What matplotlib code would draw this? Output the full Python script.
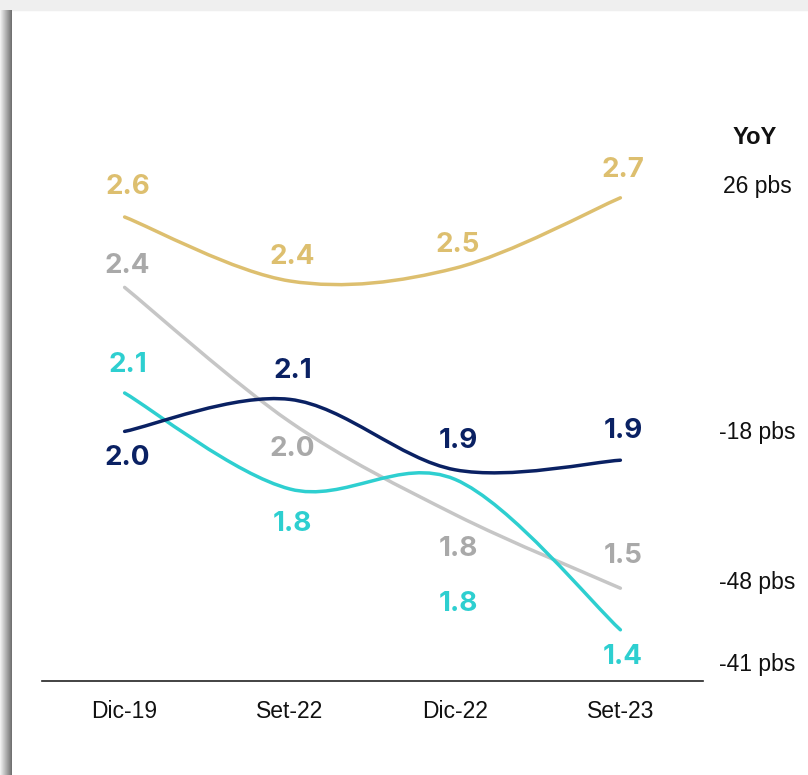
import numpy as np
import matplotlib.pyplot as plt
from matplotlib.path import Path
from matplotlib.patches import PathPatch, Rectangle

# data
periods = ['Dic-19', 'Set-22', 'Dic-22', 'Set-23']
gold_vals = [2.65, 2.45, 2.49, 2.71]
gray_vals = [2.43, 2.01, 1.72, 1.49]
navy_vals = [1.98, 2.08, 1.86, 1.89]
teal_vals = [2.10, 1.80, 1.83, 1.36]
gold_lbl = ['2.6', '2.4', '2.5', '2.7']
gray_lbl = ['2.4', '2.0', '1.8', '1.5']
navy_lbl = ['2.0', '2.1', '1.9', '1.9']
teal_lbl = ['2.1', '1.8', '1.8', '1.4']
yoy_labels = ['26 pbs', '-18 pbs', '-48 pbs', '-41 pbs']

W, H = 808, 775
fig = plt.figure(figsize=(W/100, H/100), dpi=100)
fig.patch.set_facecolor('white')

# grey frame + left shadow of the card
fig.patches.append(Rectangle((0, 1-10/H), 1, 10/H, transform=fig.transFigure,
                             color='#efefef', zorder=0))
for i in range(12):
    g = 0.94 - 0.045*i
    fig.patches.append(Rectangle((i/W, 0), 1/W, 1-10/H, transform=fig.transFigure,
                                 color=(g, g, g), lw=0, zorder=0))

ax = fig.add_axes([42/W, 94/H, (703-42)/W, 576/H])
ax.set_facecolor('none')
ax.set_xlim(-0.5, 3.5)
ax.set_ylim(1.2, 3.0)
for s in ['top', 'right', 'left']:
    ax.spines[s].set_visible(False)
ax.spines['bottom'].set_color('#222222')
ax.spines['bottom'].set_linewidth(1.2)
ax.set_yticks([])
ax.set_xticks(range(len(periods)))
ax.set_xticklabels(periods, fontsize=16.5, family=['Liberation Sans', 'DejaVu Sans'],
                   color='#111111')
ax.tick_params(axis='x', length=0, pad=14)


def smooth(ax, xs, ys, color):
    # catmull-rom as bezier segments
    pts = np.column_stack([xs, ys]).astype(float)
    n = len(pts)
    verts = [pts[0]]
    codes = [Path.MOVETO]
    for i in range(n-1):
        p0 = pts[i-1] if i > 0 else pts[i]
        p1, p2 = pts[i], pts[i+1]
        p3 = pts[i+2] if i+2 < n else pts[i+1]
        verts += [p1 + (p2-p0)/6, p2 - (p3-p1)/6, p2]
        codes += [Path.CURVE4]*3
    ax.add_patch(PathPatch(Path(verts, codes), fc='none', ec=color, lw=2.5,
                           capstyle='round'))


series = [
    (gold_vals, gold_lbl, '#DDBF6F', '#DDBF6F', [-30, -24, -23, -28]),
    (gray_vals, gray_lbl, '#C6C6C6', '#A9A9A9', [-21, 27, 34, -32]),
    (teal_vals, teal_lbl, '#2ECFD0', '#2ECFD0', [-28, 35, 125, 27]),
    (navy_vals, navy_lbl, '#0A2163', '#0A2163', [27, -28, -29, -29]),
]
x = np.arange(len(periods))
for vals, lbls, lc, tc, offs in series:
    smooth(ax, x, vals, lc)
    for xi, v, t, o in zip(x, vals, lbls, offs):
        ax.annotate(t, (xi, v), xytext=(2, -o*0.72), textcoords='offset points',
                    ha='center', va='center', fontsize=20, fontweight='bold',
                    family=['Inter', 'Open Sans', 'DejaVu Sans'], color=tc)

fig.text(755/W, 1-138/H, 'YoY', ha='center', va='center', fontsize=17,
         fontweight='bold', family=['Liberation Sans', 'DejaVu Sans'], color='#111111')
for t, yp in zip(yoy_labels, [186, 433, 582, 665]):
    fig.text(757/W, 1-yp/H, t, ha='center', va='center', fontsize=16.5,
             family=['Liberation Sans', 'DejaVu Sans'], color='#111111')

fig.savefig('out.png', dpi=100)
